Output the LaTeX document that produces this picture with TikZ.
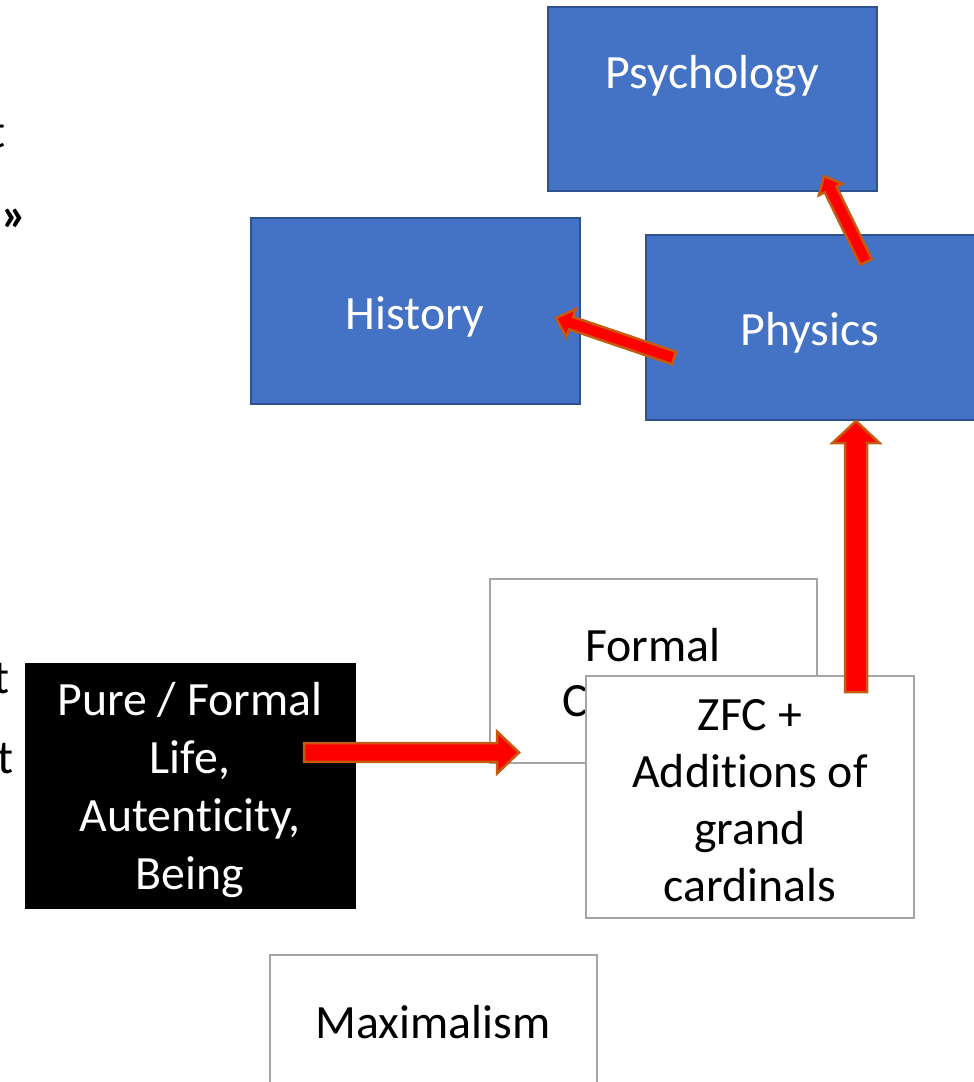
\documentclass[tikz,border=0pt]{standalone}
\usepackage{fontspec}
\setmainfont{Carlito}[Ligatures=NoCommon]
\usetikzlibrary{calc}

\definecolor{boxblue}{HTML}{4472C4}
\definecolor{blueedge}{HTML}{2F528F}
\definecolor{greyedge}{HTML}{A5A5A5}
\definecolor{arrowedge}{HTML}{C55A11}
\definecolor{arrowfill}{HTML}{FF0000}

\tikzset{
  txt/.style={font=\fontsize{47.8pt}{58pt}\selectfont, inner sep=0pt, align=center},
  bluebox/.style={draw=blueedge, fill=boxblue, line width=2pt, inner sep=0pt},
  whitebox/.style={draw=greyedge, fill=white, line width=2.5pt, inner sep=0pt},
  blackbox/.style={draw=black, fill=black, line width=1pt, inner sep=0pt},
  blockarrow/.style={fill=arrowfill, draw=arrowedge, line width=2.5pt, line join=miter},
}

% block arrow: tail, tip, shaft half width, head half width, head length
\newcommand\drawblockarrow[5]{%
  \coordinate (hb) at ($(#2)!#5!(#1)$);
  \draw[blockarrow]
    ($(#1)!#3!90:(#2)$) -- ($(hb)!#3!90:(#2)$) -- ($(hb)!#4!90:(#2)$) -- (#2)
    -- ($(hb)!#4!-90:(#2)$) -- ($(hb)!#3!-90:(#2)$) -- ($(#1)!#3!-90:(#2)$) -- cycle;
}

\begin{document}
\begin{tikzpicture}[x=1pt,y=-1pt]
\useasboundingbox (0,0) rectangle (974,1082);
\clip (0,0) rectangle (974,1082);

% text running in from the left margin
\node[txt, anchor=base east] (frag1) at (6,147) {t};
\node[txt, font=\fontsize{47.8pt}{58pt}\selectfont\bfseries, anchor=base west] (frag2) at (1,230) {»};
\node[txt, anchor=base east] (frag3) at (10,693) {t};
\node[txt, anchor=base east] (frag4) at (14,773) {t};

% blue boxes
\node[bluebox, minimum width=329pt, minimum height=184pt] (psych) at (712.5,99) {};
\node[txt, text=white] (psychT) at (712,76) {Psychology};
\node[bluebox, minimum width=329pt, minimum height=186pt] (hist) at (415.5,311) {};
\node[txt, text=white] (histT) at (415,317) {History};
\node[bluebox, minimum width=329pt, minimum height=185pt] (phys) at (810.5,327.5) {};
\node[txt, text=white] (physT) at (810,333) {Physics};

% arrows between the blue boxes
\coordinate (histTail) at (674,358);
\coordinate (histTip) at (556,318);
\drawblockarrow{histTail}{histTip}{6.5pt}{15pt}{16pt}
\coordinate (psychTail) at (866,262);
\coordinate (psychTip) at (824,176);
\drawblockarrow{psychTail}{psychTip}{6.5pt}{13pt}{15pt}

% lower boxes
\node[whitebox, minimum width=327pt, minimum height=184pt] (formal) at (653.5,671) {};
\node[txt] (formalT) at (653,645) {Formal};
\node[txt, anchor=base west] (formalC) at (562,716) {C};
\node[whitebox, minimum width=328pt, minimum height=242pt] (zfc) at (750,797) {};
\node[txt, font=\fontsize{47.8pt}{57pt}\selectfont] (zfcT) at (750,800.5) {ZFC +\\Additions of\\grand\\cardinals};
\node[blackbox, minimum width=330pt, minimum height=245pt] (pure) at (190,785.5) {};
\node[txt, text=white] (pureT) at (190,790) {Pure / Formal\\Life,\\Autenticity,\\Being};
\node[whitebox, minimum width=327pt, minimum height=184pt] (maxim) at (433.5,1047) {};
\node[txt] (maximT) at (433,1022) {Maximalism};

% arrows from the lower boxes
\coordinate (pureTail) at (304,752.5);
\coordinate (pureTip) at (519,752.5);
\drawblockarrow{pureTail}{pureTip}{9.3pt}{21pt}{22pt}
\coordinate (zfcTail) at (856,692);
\coordinate (physTip) at (856,421);
\drawblockarrow{zfcTail}{physTip}{11pt}{23.5pt}{22pt}
\end{tikzpicture}
\end{document}
